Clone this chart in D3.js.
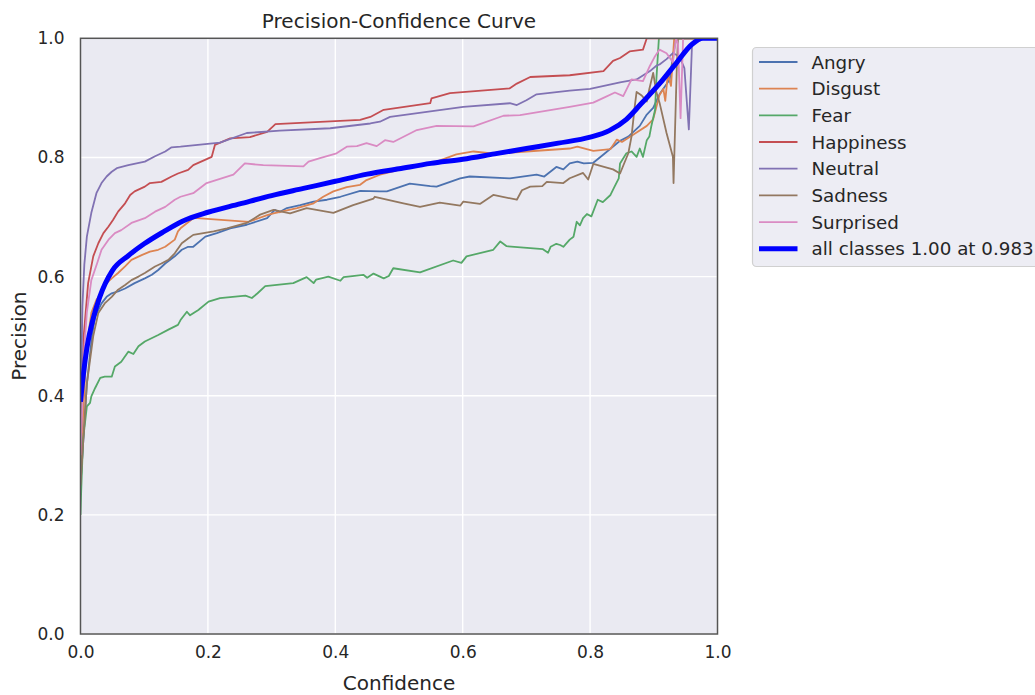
<!DOCTYPE html>
<html>
<head>
<meta charset="utf-8">
<script src="https://cdn.jsdelivr.net/npm/d3@7"></script>
<style>
  html, body { margin: 0; padding: 0; background: #ffffff; }
  svg { display: block; font-family: "DejaVu Sans", sans-serif; }
</style>
</head>
<body>
<svg id="chart" width="1035" height="695"></svg>
<script>
// Per-class precision vs. confidence samples: [confidence, precision]
const classNames = ["Angry", "Disgust", "Fear", "Happiness", "Neutral", "Sadness", "Surprised"];
const classColors = ["#4c72b0", "#dd8452", "#55a868", "#c44e52", "#8172b3", "#937860", "#da8bc3"];

const angry = [[0,0.25],[0.01,0.42],[0.018,0.5],[0.023,0.533],[0.028,0.544],[0.033,0.555],[0.041,0.566],[0.049,0.572],[0.059,0.575],[0.07,0.58],[0.085,0.589],[0.101,0.597],[0.112,0.603],[0.122,0.611],[0.133,0.622],[0.148,0.634],[0.159,0.645],[0.169,0.65],[0.177,0.65],[0.196,0.667],[0.214,0.673],[0.235,0.681],[0.261,0.687],[0.293,0.698],[0.305,0.712],[0.312,0.708],[0.324,0.715],[0.345,0.72],[0.366,0.726],[0.387,0.729],[0.408,0.734],[0.439,0.744],[0.47,0.743],[0.481,0.743],[0.517,0.756],[0.549,0.752],[0.559,0.751],[0.596,0.765],[0.611,0.768],[0.674,0.765],[0.716,0.771],[0.728,0.768],[0.747,0.784],[0.758,0.78],[0.768,0.79],[0.78,0.793],[0.79,0.79],[0.805,0.791],[0.821,0.805],[0.847,0.828],[0.86,0.835],[0.878,0.853],[0.889,0.872],[0.899,0.883],[0.909,0.906],[0.925,0.931],[0.93,0.97],[0.935,1.0],[1.0,1.0]];

const disgust = [[0,0.28],[0.008,0.45],[0.012,0.5],[0.017,0.539],[0.025,0.561],[0.033,0.572],[0.041,0.589],[0.049,0.597],[0.059,0.606],[0.07,0.617],[0.08,0.628],[0.096,0.636],[0.109,0.642],[0.122,0.645],[0.133,0.65],[0.148,0.662],[0.153,0.676],[0.157,0.681],[0.177,0.698],[0.183,0.698],[0.264,0.692],[0.293,0.703],[0.303,0.706],[0.34,0.715],[0.366,0.723],[0.381,0.734],[0.397,0.743],[0.418,0.75],[0.439,0.754],[0.449,0.762],[0.47,0.771],[0.5,0.779],[0.53,0.787],[0.559,0.793],[0.59,0.805],[0.617,0.81],[0.653,0.806],[0.7,0.81],[0.768,0.815],[0.78,0.818],[0.805,0.811],[0.832,0.814],[0.842,0.83],[0.85,0.826],[0.873,0.842],[0.889,0.853],[0.899,0.864],[0.909,0.905],[0.915,0.915],[0.918,0.895],[0.922,0.94],[0.927,0.92],[0.932,1.0],[1.0,1.0]];

const fear = [[0,0.2],[0.001,0.237],[0.004,0.326],[0.01,0.382],[0.015,0.388],[0.017,0.399],[0.023,0.413],[0.031,0.43],[0.038,0.432],[0.049,0.432],[0.054,0.449],[0.064,0.457],[0.075,0.474],[0.083,0.47],[0.091,0.483],[0.101,0.491],[0.122,0.502],[0.138,0.511],[0.153,0.519],[0.157,0.527],[0.167,0.541],[0.172,0.535],[0.185,0.544],[0.201,0.558],[0.219,0.564],[0.259,0.568],[0.269,0.564],[0.278,0.572],[0.29,0.584],[0.334,0.589],[0.355,0.599],[0.366,0.589],[0.37,0.595],[0.389,0.6],[0.408,0.593],[0.413,0.599],[0.444,0.603],[0.45,0.598],[0.46,0.605],[0.476,0.597],[0.484,0.601],[0.491,0.614],[0.533,0.607],[0.585,0.627],[0.598,0.623],[0.606,0.634],[0.648,0.645],[0.659,0.659],[0.669,0.651],[0.726,0.646],[0.734,0.64],[0.738,0.65],[0.747,0.655],[0.753,0.653],[0.758,0.65],[0.768,0.662],[0.774,0.667],[0.779,0.692],[0.784,0.686],[0.789,0.698],[0.795,0.705],[0.802,0.701],[0.812,0.729],[0.82,0.725],[0.832,0.737],[0.838,0.75],[0.845,0.765],[0.847,0.79],[0.857,0.807],[0.865,0.81],[0.873,0.801],[0.878,0.815],[0.883,0.801],[0.889,0.829],[0.893,0.835],[0.896,0.852],[0.902,0.88],[0.904,0.93],[0.908,1.0],[1.0,1.0]];

const happiness = [[0,0.3],[0.005,0.5],[0.012,0.589],[0.02,0.634],[0.028,0.656],[0.036,0.673],[0.044,0.684],[0.051,0.695],[0.059,0.709],[0.07,0.723],[0.078,0.737],[0.085,0.743],[0.101,0.751],[0.109,0.757],[0.127,0.759],[0.143,0.768],[0.153,0.773],[0.169,0.779],[0.177,0.787],[0.206,0.801],[0.211,0.821],[0.235,0.832],[0.266,0.834],[0.293,0.843],[0.306,0.856],[0.439,0.863],[0.455,0.868],[0.476,0.88],[0.549,0.891],[0.551,0.899],[0.58,0.908],[0.674,0.916],[0.685,0.924],[0.706,0.935],[0.768,0.938],[0.821,0.945],[0.836,0.962],[0.847,0.967],[0.862,0.978],[0.883,0.981],[0.889,1.0],[1.0,1.0]];

const neutral = [[0,0.35],[0.003,0.55],[0.006,0.62],[0.01,0.667],[0.017,0.707],[0.025,0.74],[0.033,0.757],[0.041,0.768],[0.049,0.776],[0.057,0.782],[0.075,0.787],[0.101,0.793],[0.117,0.802],[0.133,0.81],[0.143,0.817],[0.157,0.818],[0.219,0.825],[0.261,0.841],[0.313,0.845],[0.392,0.849],[0.455,0.857],[0.47,0.86],[0.486,0.868],[0.601,0.885],[0.674,0.891],[0.685,0.888],[0.7,0.896],[0.716,0.906],[0.768,0.912],[0.8,0.915],[0.847,0.926],[0.873,0.931],[0.894,0.945],[0.904,0.954],[0.909,0.956],[0.92,0.965],[0.93,0.975],[0.94,0.97],[0.948,0.95],[0.955,0.847],[0.96,0.99],[0.965,1.0],[1.0,1.0]];

const sadness = [[0,0.25],[0.01,0.42],[0.02,0.5],[0.028,0.539],[0.038,0.555],[0.049,0.566],[0.059,0.578],[0.07,0.586],[0.08,0.594],[0.091,0.6],[0.101,0.606],[0.117,0.617],[0.127,0.622],[0.138,0.628],[0.148,0.639],[0.159,0.656],[0.169,0.664],[0.177,0.67],[0.209,0.676],[0.23,0.681],[0.261,0.69],[0.282,0.704],[0.303,0.712],[0.329,0.706],[0.355,0.715],[0.397,0.707],[0.428,0.72],[0.46,0.731],[0.462,0.734],[0.507,0.723],[0.533,0.717],[0.564,0.724],[0.596,0.719],[0.601,0.726],[0.627,0.722],[0.648,0.737],[0.685,0.729],[0.693,0.745],[0.706,0.751],[0.725,0.752],[0.732,0.759],[0.758,0.757],[0.768,0.765],[0.789,0.774],[0.797,0.763],[0.805,0.789],[0.836,0.78],[0.847,0.773],[0.86,0.807],[0.865,0.835],[0.87,0.885],[0.873,0.91],[0.881,0.904],[0.889,0.894],[0.893,0.915],[0.899,0.942],[0.904,0.91],[0.909,0.892],[0.92,0.841],[0.93,0.801],[0.931,0.757],[0.936,0.948],[0.938,1.0],[1.0,1.0]];

const surprised = [[0,0.3],[0.006,0.48],[0.01,0.54],[0.017,0.594],[0.026,0.622],[0.033,0.645],[0.044,0.662],[0.054,0.673],[0.064,0.678],[0.08,0.69],[0.101,0.698],[0.117,0.709],[0.133,0.717],[0.148,0.729],[0.157,0.734],[0.177,0.74],[0.198,0.757],[0.24,0.771],[0.258,0.79],[0.287,0.787],[0.35,0.785],[0.358,0.793],[0.376,0.799],[0.402,0.807],[0.418,0.818],[0.434,0.819],[0.449,0.824],[0.465,0.819],[0.478,0.829],[0.491,0.826],[0.528,0.846],[0.559,0.853],[0.617,0.852],[0.664,0.87],[0.69,0.871],[0.768,0.885],[0.805,0.892],[0.821,0.9],[0.839,0.909],[0.852,0.903],[0.865,0.931],[0.883,0.928],[0.894,0.954],[0.902,0.97],[0.909,0.981],[0.92,0.975],[0.93,0.96],[0.935,1.0],[0.938,0.99],[0.942,0.866],[0.946,1.0],[1.0,1.0]];

// Mean curve over all classes
const allClasses = [[0,0.39],[0.005,0.44],[0.01,0.48],[0.02,0.53],[0.03,0.565],[0.05,0.61],[0.075,0.635],[0.1,0.655],[0.13,0.675],[0.16,0.693],[0.2,0.708],[0.25,0.722],[0.3,0.736],[0.35,0.748],[0.4,0.76],[0.45,0.772],[0.5,0.781],[0.55,0.79],[0.6,0.797],[0.65,0.806],[0.7,0.815],[0.75,0.824],[0.8,0.834],[0.83,0.845],[0.857,0.864],[0.88,0.89],[0.91,0.925],[0.935,0.958],[0.96,0.99],[0.977,1.0],[1.0,1.0]];
const allClassesLabel = "all classes 1.00 at 0.983";

const xTicks = [0, 0.2, 0.4, 0.6, 0.8, 1.0];
const yTicks = [0, 0.2, 0.4, 0.6, 0.8, 1.0];

const series = [angry, disgust, fear, happiness, neutral, sadness, surprised];

const svg = d3.select("#chart");
const plot = { left: 80.5, top: 38.3, right: 717.5, bottom: 634 };

const x = d3.scaleLinear().domain([0, 1]).range([plot.left, plot.right]);
const y = d3.scaleLinear().domain([0, 1]).range([plot.bottom, plot.top]);

const textColor = "#262626";

// Axes background
svg.append("rect")
  .attr("x", plot.left).attr("y", plot.top)
  .attr("width", plot.right - plot.left).attr("height", plot.bottom - plot.top)
  .attr("fill", "#eaeaf2");

// Grid
const grid = svg.append("g");
grid.selectAll(".gx").data(xTicks).join("line")
  .attr("x1", d => x(d)).attr("x2", d => x(d))
  .attr("y1", plot.top).attr("y2", plot.bottom)
  .attr("stroke", "#ffffff").attr("stroke-width", 1.4);
grid.selectAll(".gy").data(yTicks).join("line")
  .attr("x1", plot.left).attr("x2", plot.right)
  .attr("y1", d => y(d)).attr("y2", d => y(d))
  .attr("stroke", "#ffffff").attr("stroke-width", 1.4);

// Clip region for the curves
svg.append("defs").append("clipPath").attr("id", "plotClip")
  .append("rect")
  .attr("x", plot.left).attr("y", plot.top)
  .attr("width", plot.right - plot.left).attr("height", plot.bottom - plot.top);

const line = d3.line().x(d => x(d[0])).y(d => y(d[1]));
const smoothLine = d3.line().x(d => x(d[0])).y(d => y(d[1])).curve(d3.curveMonotoneX);

const curves = svg.append("g").attr("clip-path", "url(#plotClip)");
series.forEach((s, i) => {
  curves.append("path")
    .datum(s)
    .attr("d", line)
    .attr("fill", "none")
    .attr("stroke", classColors[i])
    .attr("stroke-width", 1.8)
    .attr("stroke-linejoin", "round");
});
curves.append("path")
  .datum(allClasses)
  .attr("d", smoothLine)
  .attr("fill", "none")
  .attr("stroke", "#0000ff")
  .attr("stroke-width", 5)
  .attr("stroke-linejoin", "round");

// Spines
svg.append("rect")
  .attr("x", plot.left).attr("y", plot.top)
  .attr("width", plot.right - plot.left).attr("height", plot.bottom - plot.top)
  .attr("fill", "none").attr("stroke", "#555555").attr("stroke-width", 1.5);

// Axes with tick labels
const xAxis = d3.axisBottom(x).tickValues(xTicks).tickFormat(d3.format(".1f")).tickSize(0).tickPadding(12);
const yAxis = d3.axisLeft(y).tickValues(yTicks).tickFormat(d3.format(".1f")).tickSize(0).tickPadding(16);

const gx = svg.append("g").attr("transform", `translate(0,${plot.bottom})`).call(xAxis);
const gy = svg.append("g").attr("transform", `translate(${plot.left},0)`).call(yAxis);
[gx, gy].forEach(g => {
  g.select(".domain").remove();
  g.selectAll("text")
    .attr("fill", textColor)
    .style("font-size", "17px")
    .style("font-family", "DejaVu Sans, sans-serif");
});

// Title and axis labels
svg.append("text")
  .attr("x", (plot.left + plot.right) / 2).attr("y", 28)
  .attr("text-anchor", "middle").attr("fill", textColor)
  .style("font-size", "20px")
  .text("Precision-Confidence Curve");

svg.append("text")
  .attr("x", (plot.left + plot.right) / 2).attr("y", 690)
  .attr("text-anchor", "middle").attr("fill", textColor)
  .style("font-size", "20px")
  .text("Confidence");

svg.append("text")
  .attr("transform", `translate(26,${(plot.top + plot.bottom) / 2}) rotate(-90)`)
  .attr("text-anchor", "middle").attr("fill", textColor)
  .style("font-size", "20px")
  .text("Precision");

// Legend
const legend = svg.append("g");
legend.append("rect")
  .attr("x", 752.5).attr("y", 47.5)
  .attr("width", 320).attr("height", 219)
  .attr("rx", 4).attr("ry", 4)
  .attr("fill", "#eaeaf2").attr("fill-opacity", 0.85)
  .attr("stroke", "#d0d0d0").attr("stroke-width", 1.2);

const legendItems = classNames.map((n, i) => ({ name: n, color: classColors[i], width: 1.8 }))
  .concat([{ name: allClassesLabel, color: "#0000ff", width: 5 }]);

const rowY = d3.scaleLinear().domain([0, legendItems.length - 1]).range([62, 248.7]);

legend.selectAll(".item").data(legendItems).join("g")
  .each(function(d, i) {
    const g = d3.select(this);
    g.append("line")
      .attr("x1", 759).attr("x2", 797.5)
      .attr("y1", rowY(i)).attr("y2", rowY(i))
      .attr("stroke", d.color).attr("stroke-width", d.width);
    g.append("text")
      .attr("x", 811.5).attr("y", rowY(i) + 6.5)
      .attr("fill", textColor)
      .style("font-size", "18.3px")
      .text(d.name);
  });
</script>
</body>
</html>
